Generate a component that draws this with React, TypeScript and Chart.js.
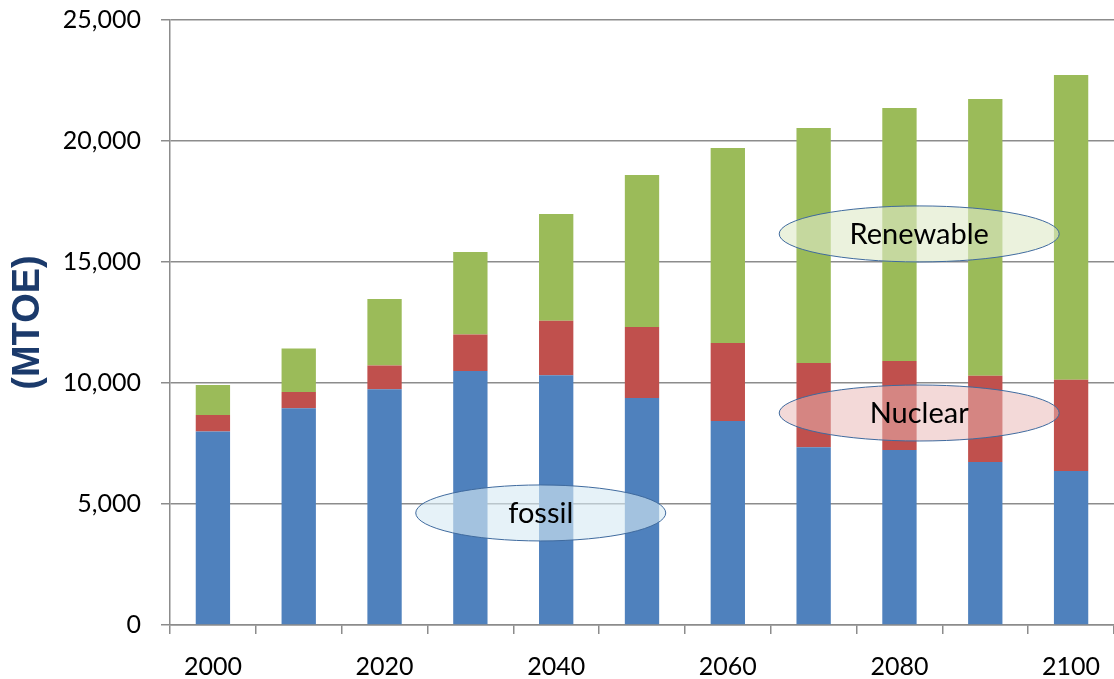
import React, { useEffect, useRef } from "react";
import { Chart, registerables } from "chart.js";

Chart.register(...registerables);

const years = ["2000", "2010", "2020", "2030", "2040", "2050", "2060", "2070", "2080", "2090", "2100"];
const fossil = [8000, 8960, 9740, 10500, 10320, 9380, 8430, 7350, 7230, 6740, 6360];
const nuclear = [680, 670, 980, 1500, 2250, 2930, 3220, 3480, 3680, 3560, 3770];
const renewable = [1240, 1800, 2750, 3410, 4410, 6290, 8060, 9710, 10450, 11440, 12600];
const yTicks = [0, 5000, 10000, 15000, 20000, 25000];

const FONT = "Lato, 'Open Sans', sans-serif";

// annotation bubbles (category index, value) with their styles
const bubbles = [
  { text: "fossil", x: 3.82, y: 4630, rx: 125, ry: 28, fill: "rgba(214,234,243,0.62)" },
  { text: "Nuclear", x: 8.23, y: 8760, rx: 140, ry: 28, fill: "rgba(232,182,181,0.52)" },
  { text: "Renewable", x: 8.23, y: 16160, rx: 140, ry: 28, fill: "rgba(222,234,200,0.62)" },
];

const bubblePlugin = {
  id: "bubbles",
  afterDatasetsDraw(chart: any) {
    const { ctx } = chart;
    const xs = chart.scales.x;
    const ys = chart.scales.y;
    ctx.save();
    for (const b of bubbles) {
      const cx = xs.getPixelForValue(b.x);
      const cy = ys.getPixelForValue(b.y);
      ctx.beginPath();
      ctx.ellipse(cx, cy, b.rx, b.ry, 0, 0, Math.PI * 2);
      ctx.fillStyle = b.fill;
      ctx.fill();
      ctx.lineWidth = 1;
      ctx.strokeStyle = "#3F6A9E";
      ctx.stroke();
      ctx.fillStyle = "#000";
      ctx.font = `29px ${FONT}`;
      ctx.textAlign = "center";
      ctx.textBaseline = "middle";
      ctx.fillText(b.text, cx, cy + 1);
    }
    ctx.restore();
  },
};

export default function App() {
  const ref = useRef<HTMLCanvasElement>(null);
  useEffect(() => {
    if (!ref.current) return;
    const grid = "#8C8C8C";
    const chart = new Chart(ref.current, {
      type: "bar",
      data: {
        labels: years,
        datasets: [
          { label: "fossil", data: fossil, backgroundColor: "#4F81BD", stack: "s" },
          { label: "Nuclear", data: nuclear, backgroundColor: "#C0504D", stack: "s" },
          { label: "Renewable", data: renewable, backgroundColor: "#9BBB59", stack: "s" },
        ],
      },
      options: {
        animation: false,
        responsive: true,
        maintainAspectRatio: false,
        layout: { padding: { top: 20, right: 0, left: 0, bottom: 0 } },
        datasets: { bar: { categoryPercentage: 1, barPercentage: 0.4 } },
        plugins: { legend: { display: false }, tooltip: { enabled: false } },
        scales: {
          x: {
            stacked: true,
            offset: true,
            afterFit: (s: any) => { s.height = 54; s.paddingLeft = 0; s.paddingRight = 0; },
            grid: { display: true, drawOnChartArea: false, drawTicks: true, tickLength: 9, color: grid, lineWidth: 1.5, offset: true },
            border: { color: grid, width: 1.5 },
            ticks: {
              autoSkip: false,
              maxRotation: 0,
              padding: 18,
              color: "#000",
              font: { family: FONT, size: 25 },
              callback: (_v: any, i: number) => (i % 2 === 0 ? years[i] : ""),
            },
          },
          y: {
            stacked: true,
            min: 0,
            max: 25000,
            afterFit: (s: any) => { s.width = 170; s.paddingTop = 0; s.paddingBottom = 0; },
            afterBuildTicks: (s: any) => { s.ticks = yTicks.map((v) => ({ value: v })); },
            grid: { color: grid, lineWidth: 1.5, tickLength: 9, drawTicks: true },
            border: { color: grid, width: 1.5 },
            ticks: {
              padding: 20,
              color: "#000",
              font: { family: FONT, size: 25 },
              callback: (v: any) => Number(v).toLocaleString("en-US"),
            },
            title: {
              display: true,
              text: "(MTOE)",
              color: "#1B3A6B",
              font: { family: "'Liberation Sans', Arial, sans-serif", size: 38, weight: "bold" },
              padding: { top: 6, bottom: 0 },
            },
          },
        },
      },
      plugins: [bubblePlugin],
    });
    return () => chart.destroy();
  }, []);
  return (
    <div style={{ position: "fixed", left: 0, top: 0, width: 1114, height: 679 }}>
      <canvas ref={ref} />
    </div>
  );
}
